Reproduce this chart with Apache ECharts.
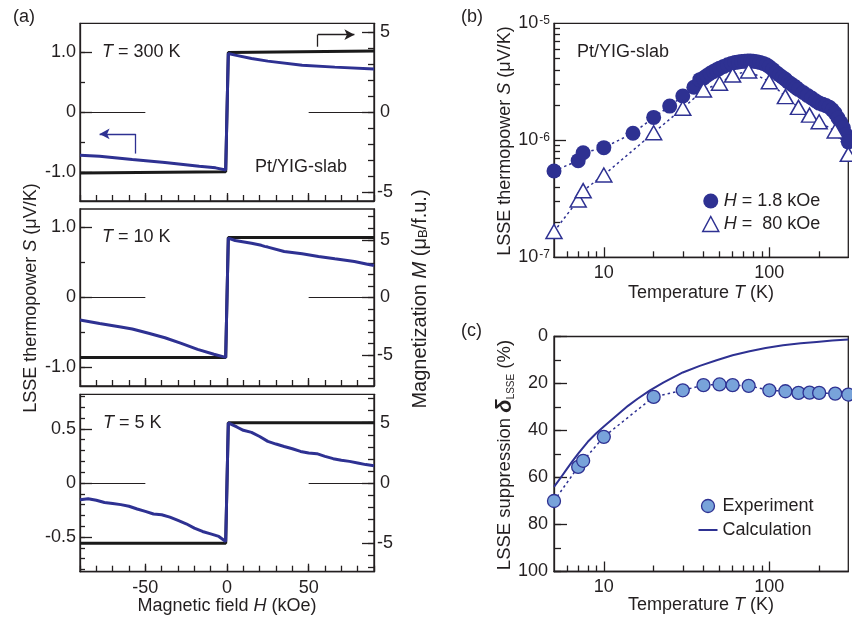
<!DOCTYPE html>
<html><head><meta charset="utf-8">
<script src="https://cdn.jsdelivr.net/npm/echarts@6/dist/echarts.min.js"></script>
<style>html,body{margin:0;padding:0;background:#fff}#c{width:852px;height:618px}</style>
</head><body><div id="c"></div>
<script>
// ================= DATA =================
// Panel (a): magnetic field H (kOe) vs LSSE thermopower S (uV/K) [blue] and magnetization M (muB/f.u.) [black]
const S300 = [[-90,-0.717],[-78,-0.733],[-58,-0.789],[-38,-0.839],[-17,-0.90],[-7,-0.928],[-0.8,-0.965],[0.8,0.978],[5,0.95],[15,0.894],[25,0.85],[46,0.783],[66,0.75],[90,0.717]];
const M300 = [[-90,-3.8],[-0.8,-3.72],[0.8,3.72],[90,3.82]];
const S10 = [[-90,-0.32],[-78,-0.37],[-65,-0.42],[-58,-0.45],[-48,-0.51],[-38,-0.575],[-28,-0.655],[-18,-0.74],[-8,-0.81],[-0.8,-0.855],[0.8,0.848],[5,0.814],[15,0.776],[21,0.745],[23,0.73],[25,0.72],[35,0.657],[46,0.624],[56,0.586],[66,0.552],[78,0.514],[86,0.476],[90,0.457]];
const M10 = [[-90,-5.2],[-0.8,-5.2],[0.8,5.2],[90,5.2]];
const S5 = [[-90,-0.155],[-85,-0.145],[-80,-0.16],[-75,-0.18],[-70,-0.19],[-65,-0.20],[-60,-0.215],[-55,-0.24],[-50,-0.262],[-45,-0.287],[-40,-0.293],[-35,-0.315],[-30,-0.346],[-25,-0.377],[-20,-0.417],[-15,-0.448],[-10,-0.47],[-5,-0.494],[-0.8,-0.54],[0.8,0.555],[3,0.54],[6,0.518],[10,0.487],[15,0.468],[20,0.43],[25,0.385],[30,0.36],[35,0.338],[40,0.317],[45,0.292],[50,0.278],[55,0.271],[60,0.246],[65,0.225],[70,0.21],[75,0.2],[80,0.185],[85,0.17],[90,0.16]];
const M5 = [[-90,-5.0],[-0.8,-5.0],[0.8,5.0],[90,5.0]];
const tempLabelsA = ['300', '10', '5'];
const fieldTicksA = [-90,-80,-70,-60,-50,-40,-30,-20,-10,0,10,20,30,40,50,60,70,80,90];
const fieldLabelsA = [-50, 0, 50];
const zeroRefSegments = [[-90,-50],[50,90]];
const leftMinorA = [[-1,-0.5,0,0.5,1],[-1,-0.5,0,0.5,1],[-0.8,-0.7,-0.6,-0.5,-0.4,-0.3,-0.2,-0.1,0,0.1,0.2,0.3,0.4,0.5,0.6,0.7,0.8]];
const leftMajorA = [[-1,0,1],[-1,0,1],[-0.5,0,0.5]];
const leftLabelsA = [['-1.0','0','1.0'],['-1.0','0','1.0'],['-0.5','0','0.5']];
const rightMinorA = [[-5,-4,-3,-2,-1,0,1,2,3,4,5],[-7,-6,-5,-4,-3,-2,-1,0,1,2,3,4,5,6,7],[-7,-6,-5,-4,-3,-2,-1,0,1,2,3,4,5,6,7]];
const rightMajorA = [-5,0,5];
const rightLabelsA = ['-5','0','5'];
// annotation arrows in panel (a) top (H, S)
const arrowBlack = [[55.5,1.09],[55.5,1.29],[78,1.29]];
const arrowBlue = [[-56,-0.69],[-56,-0.363],[-78,-0.363]];

// Panel (b): temperature T (K) vs S (uV/K), log-log
const T_low = [5,7,7.5,10,15,20,25,30,35,38,40,42,44,46,48,50,53,56,59,62,65,68,71,74,77,80,84,88,92,96,100,105,110,115,120,125,130,135,140,145,150,160,170,180,190,200,210,220,230,240,250,260,270,280,290,300];
const S_low = [5.47e-7,6.70e-7,7.83e-7,8.65e-7,1.15e-6,1.57e-6,1.96e-6,2.39e-6,2.84e-6,3.30e-6,3.40e-6,3.58e-6,3.74e-6,3.88e-6,4.00e-6,4.12e-6,4.28e-6,4.42e-6,4.53e-6,4.62e-6,4.68e-6,4.72e-6,4.75e-6,4.76e-6,4.76e-6,4.74e-6,4.70e-6,4.62e-6,4.53e-6,4.42e-6,4.25e-6,4.02e-6,3.80e-6,3.62e-6,3.46e-6,3.32e-6,3.15e-6,3.04e-6,2.93e-6,2.82e-6,2.72e-6,2.56e-6,2.42e-6,2.30e-6,2.18e-6,2.08e-6,2.03e-6,1.98e-6,1.92e-6,1.82e-6,1.70e-6,1.55e-6,1.42e-6,1.28e-6,1.12e-6,0.97e-6];
const T_high = [5,7,7.5,10,20,30,40,50,60,75,100,125,150,175,200,250,300];
const S_high = [1.66e-7,3.09e-7,3.71e-7,5.05e-7,1.16e-6,1.88e-6,2.69e-6,3.07e-6,3.61e-6,3.91e-6,3.17e-6,2.36e-6,1.91e-6,1.64e-6,1.44e-6,1.20e-6,7.59e-7];
const tempMinorTicks = [6,7,8,9,20,30,40,50,60,70,80,90,200];
const tempMajorTicks = [10,100];
const sLogLabels = [1e-7,1e-6,1e-5];
const sLogMinor = [2e-7,3e-7,4e-7,5e-7,6e-7,7e-7,8e-7,9e-7,2e-6,3e-6,4e-6,5e-6,6e-6,7e-6,8e-6,9e-6];
const sLogMajor = [1e-6];

// Panel (c): LSSE suppression (%)
const T_exp = [5,7,7.5,10,20,30,40,50,60,75,100,125,150,175,200,250,300];
const D_exp = [70.0,55.5,52.9,42.7,25.7,22.9,20.7,20.4,20.7,21.0,22.9,23.3,24.0,23.9,24.0,24.3,24.7];
const T_calc = [5,5.5,6,6.5,7,8,9,10,12,14,16,19,23,30,38,48,60,76,95,121,155,193,240,300];
const D_calc = [64.0,60.0,56.2,52.8,49.8,44.8,41.2,38.3,33.5,29.5,26.5,22.9,19.5,15.3,12.5,10.1,8.0,6.3,4.9,3.7,2.9,2.3,1.7,1.3];
const supMinor = [0,10,20,30,40,50,60,70,80,90,100];
const supLabels = [0,20,40,60,80,100];

// ================= STYLE =================
const FONT = "'Liberation Sans', Arial, Helvetica, sans-serif";
const INK = '#231f20';
const NAVY = '#2e3192';
const LIGHT = '#78a3da';
const txt = {color: INK, fontSize: 18, fontFamily: FONT};
const LRICH = {sup: {fontSize: 12, fontFamily: FONT, color: INK, verticalAlign: 'top', padding: [0,0,6,1]}};

const grids = [], xAxes = [], yAxes = [], series = [];
function addGrid(g, frame) {
  grids.push(Object.assign({show: !!frame, borderColor: INK, borderWidth: frame ? 1.3 : 0, backgroundColor: 'transparent', containLabel: false, outerBoundsMode: 'none'}, g));
  return grids.length - 1;
}
function mkAxis(o) {
  const ax = {
    type: o.type || 'value', gridIndex: o.grid, position: o.position,
    min: o.min, max: o.max, inverse: !!o.inverse,
    axisLine: {show: o.line !== false, onZero: false, lineStyle: {color: INK, width: 1.3}},
    axisTick: {show: !!o.ticks, inside: true, length: o.tickLen || 6, customValues: o.ticks || [], lineStyle: {color: INK, width: 1.3}},
    axisLabel: o.labels ? Object.assign({show: true, customValues: o.labels, formatter: o.fmt, margin: o.margin, rich: LRICH}, txt, o.align ? {align: o.align} : {}) : {show: false},
    splitLine: {show: false}, minorTick: {show: false}, minorSplitLine: {show: false}
  };
  if (o.type === 'log') ax.logBase = 10;
  return ax;
}
function pushX(o) { xAxes.push(mkAxis(o)); return xAxes.length - 1; }
function pushY(o) { yAxes.push(mkAxis(o)); return yAxes.length - 1; }
const near = (arr, v) => arr.findIndex(m => Math.abs(m - v) < 1e-9);

// ---------- panel (a) ----------
const aLayout = [{top: 23.3, height: 177.7}, {top: 209, height: 177}, {top: 394.3, height: 177.4}];
const aLeftRange = [1.48, 1.264, 0.82];
const aRightRange = [5.55, 7.67, 7.36];
const aS = [S300, S10, S5];
const aM = [M300, M10, M5];
aLayout.forEach((lay, i) => {
  const g = addGrid({left: 80, width: 294, top: lay.top, height: lay.height}, true);
  const go = addGrid({left: 80, width: 294, top: lay.top, height: lay.height}, false);
  const xi = pushX({grid: g, position: 'bottom', min: -90, max: 90, ticks: fieldTicksA, tickLen: 6,
    labels: i === 2 ? fieldLabelsA : null, fmt: v => String(v), margin: 7});
  pushX({grid: go, position: 'bottom', min: -90, max: 90, line: false, ticks: fieldLabelsA, tickLen: 8});
  const L = aLeftRange[i], R = aRightRange[i];
  const yl = pushY({grid: g, position: 'left', min: -L, max: L, ticks: leftMinorA[i], tickLen: 5,
    labels: leftMajorA[i], fmt: v => leftLabelsA[i][near(leftMajorA[i], v)], margin: 4});
  const yr = pushY({grid: g, position: 'right', min: -R, max: R, ticks: rightMinorA[i], tickLen: 6,
    labels: rightMajorA, fmt: v => rightLabelsA[near(rightMajorA, v)], margin: 11, align: 'center'});
  pushY({grid: go, position: 'left', min: -L, max: L, line: false, ticks: leftMajorA[i], tickLen: 12});
  pushY({grid: go, position: 'right', min: -R, max: R, line: false, ticks: rightMajorA, tickLen: 12});
  series.push({type: 'line', name: 'M' + i, xAxisIndex: xi, yAxisIndex: yr, data: aM[i], symbol: 'none',
    lineStyle: {color: '#1a1a1a', width: 3}, z: 2, silent: true});
  const ml = zeroRefSegments.map(s => [{coord: [s[0], 0]}, {coord: [s[1], 0]}]);
  if (i === 0) {
    ml.push([{coord: arrowBlack[0], lineStyle: {color: INK, width: 1.3}}, {coord: arrowBlack[1]}]);
    ml.push([{coord: arrowBlack[1], lineStyle: {color: INK, width: 1.3}}, {coord: arrowBlack[2], symbol: 'arrow', symbolSize: [8, 10]}]);
    ml.push([{coord: arrowBlue[0], lineStyle: {color: NAVY, width: 1.3}}, {coord: arrowBlue[1]}]);
    ml.push([{coord: arrowBlue[1], lineStyle: {color: NAVY, width: 1.3}}, {coord: arrowBlue[2], symbol: 'arrow', symbolSize: [8, 10]}]);
  }
  series.push({type: 'line', name: 'S' + i, xAxisIndex: xi, yAxisIndex: yl, data: aS[i], symbol: 'none',
    lineStyle: {color: NAVY, width: 3}, z: 3, silent: true,
    markLine: {silent: true, symbol: ['none', 'none'], animation: false, label: {show: false},
      lineStyle: {color: INK, width: 1.2, type: 'solid'}, emphasis: {disabled: true}, data: ml}});
});

// ---------- panel (b) ----------
const gb = addGrid({left: 554, width: 294.3, top: 23.3, height: 234}, true);
const gbo = addGrid({left: 554, width: 294.3, top: 23.3, height: 234}, false);
const tempFmt = v => String(Math.round(v));
const xb = pushX({grid: gb, type: 'log', position: 'bottom', min: 5, max: 300, ticks: tempMinorTicks, tickLen: 6,
  labels: tempMajorTicks, fmt: tempFmt, margin: 7});
pushX({grid: gbo, type: 'log', position: 'bottom', min: 5, max: 300, line: false, ticks: tempMajorTicks, tickLen: 10});
const yb = pushY({grid: gb, type: 'log', position: 'left', min: 1e-7, max: 1e-5, ticks: sLogMinor, tickLen: 6,
  labels: sLogLabels, fmt: v => '10{sup|' + Math.round(Math.log10(v)) + '}', margin: 4});
pushY({grid: gbo, type: 'log', position: 'left', min: 1e-7, max: 1e-5, line: false, ticks: sLogMajor, tickLen: 12});
const nameLow = 'H = 1.8 kOe', nameHigh = 'H =  80 kOe';
series.push({type: 'line', name: nameLow, xAxisIndex: xb, yAxisIndex: yb, data: T_low.map((t, k) => [t, S_low[k]]),
  symbol: 'circle', symbolSize: 15, showAllSymbol: true, clip: false, itemStyle: {color: NAVY},
  lineStyle: {color: NAVY, width: 1.5, type: [2.5, 3]}, z: 3, silent: true});
series.push({type: 'line', name: nameHigh, xAxisIndex: xb, yAxisIndex: yb, data: T_high.map((t, k) => [t, S_high[k]]),
  symbol: 'triangle', symbolSize: [16, 14], showAllSymbol: true, clip: false,
  itemStyle: {color: '#ffffff', borderColor: NAVY, borderWidth: 1.5},
  lineStyle: {color: NAVY, width: 1.5, type: [2.5, 3]}, z: 4, silent: true});

// ---------- panel (c) ----------
const gc = addGrid({left: 554, width: 294.3, top: 336.5, height: 235}, true);
const gco = addGrid({left: 554, width: 294.3, top: 336.5, height: 235}, false);
const xc = pushX({grid: gc, type: 'log', position: 'bottom', min: 5, max: 300, ticks: tempMinorTicks, tickLen: 6,
  labels: tempMajorTicks, fmt: tempFmt, margin: 7});
pushX({grid: gco, type: 'log', position: 'bottom', min: 5, max: 300, line: false, ticks: tempMajorTicks, tickLen: 10});
const yc = pushY({grid: gc, position: 'left', min: 0, max: 100, inverse: true, ticks: supMinor, tickLen: 7,
  labels: supLabels, fmt: v => String(v), margin: 6});
pushY({grid: gco, position: 'left', min: 0, max: 100, inverse: true, line: false, ticks: supLabels, tickLen: 13});
series.push({type: 'line', name: 'Calculation', xAxisIndex: xc, yAxisIndex: yc, data: T_calc.map((t, k) => [t, D_calc[k]]),
  symbol: 'none', smooth: false, itemStyle: {color: NAVY}, lineStyle: {color: NAVY, width: 2}, z: 2, silent: true});
series.push({type: 'line', name: 'Experiment', xAxisIndex: xc, yAxisIndex: yc, data: T_exp.map((t, k) => [t, D_exp[k]]),
  symbol: 'circle', symbolSize: 13, showAllSymbol: true, clip: false,
  itemStyle: {color: LIGHT, borderColor: NAVY, borderWidth: 1.3},
  lineStyle: {color: NAVY, width: 1.5, type: [2.5, 3]}, z: 3, silent: true});

// ---------- text ----------
const TR = {
  i: {fontStyle: 'italic', fontSize: 18, fontFamily: FONT, fill: INK},
  i20: {fontStyle: 'italic', fontSize: 20, fontFamily: FONT, fill: INK},
  sub: {fontSize: 13, fontFamily: FONT, fill: INK, verticalAlign: 'bottom'},
  d: {fontStyle: 'italic', fontWeight: 'bold', fontSize: 22, fontFamily: FONT, fill: INK},
  ss: {fontSize: 10, fontFamily: FONT, fill: INK, verticalAlign: 'bottom'}
};
function gtext(x, y, text, align, rot, size) {
  return {type: 'text', x: x, y: y, rotation: rot || 0, silent: true, z: 10,
    style: {text: text, fill: INK, fontSize: size || 18, fontFamily: FONT, align: align || 'left', verticalAlign: 'middle', rich: TR}};
}
const graphics = [
  gtext(13, 17, '(a)'), gtext(461, 17, '(b)'), gtext(461, 331, '(c)'),
  gtext(102, 52.3, '{i|T} = ' + tempLabelsA[0] + ' K'),
  gtext(102, 236.7, '{i|T} = ' + tempLabelsA[1] + ' K'),
  gtext(103, 423.3, '{i|T} = ' + tempLabelsA[2] + ' K'),
  gtext(255, 166.7, 'Pt/YIG-slab'),
  gtext(577, 52, 'Pt/YIG-slab'),
  gtext(31, 298, 'LSSE thermopower {i|S} (\u03bcV/K)', 'center', Math.PI / 2),
  gtext(420, 299, 'Magnetization {i20|M} (\u03bc{sub|B}/f.u.)', 'center', Math.PI / 2, 20),
  gtext(227, 606, 'Magnetic field {i|H} (kOe)', 'center'),
  gtext(505, 141, 'LSSE thermopower {i|S} (\u03bcV/K)', 'center', Math.PI / 2),
  gtext(701, 293, 'Temperature {i|T} (K)', 'center'),
  gtext(505, 455, 'LSSE suppression {d|\u03b4}{ss|LSSE} (%)', 'center', Math.PI / 2, 18.5),
  gtext(701, 605, 'Temperature {i|T} (K)', 'center')
];

const legRich = {i: {fontStyle: 'italic', fontSize: 18, fontFamily: FONT, color: INK}};
const option = {
  animation: false,
  backgroundColor: '#ffffff',
  textStyle: {fontFamily: FONT},
  grid: grids, xAxis: xAxes, yAxis: yAxes, series: series,
  legend: [
    {data: [{name: nameLow, icon: 'circle', itemStyle: {color: NAVY, borderWidth: 0}},
            {name: nameHigh, icon: 'triangle', itemStyle: {color: '#ffffff', borderColor: NAVY, borderWidth: 1.5}}],
     left: 702, top: 192, padding: 0, orient: 'vertical', itemWidth: 16, itemHeight: 15, itemGap: 5, selectedMode: false,
     textStyle: Object.assign({rich: legRich}, txt), formatter: n => n.replace(/^H/, '{i|H}')},
    {data: [{name: 'Experiment', icon: 'circle', itemStyle: {color: LIGHT, borderColor: NAVY, borderWidth: 1.3}},
            {name: 'Calculation', icon: 'path://M0,0 L19,0 L19,2 L0,2 Z', itemStyle: {color: NAVY, borderWidth: 0}}],
     left: 698.5, top: 497, padding: 0, orient: 'vertical', itemWidth: 19, itemHeight: 13, itemGap: 6, selectedMode: false,
     textStyle: txt}
  ],
  graphic: graphics
};
const chart = echarts.init(document.getElementById('c'), null, {renderer: 'canvas', width: 852, height: 618});
chart.setOption(option);
</script></body></html>
